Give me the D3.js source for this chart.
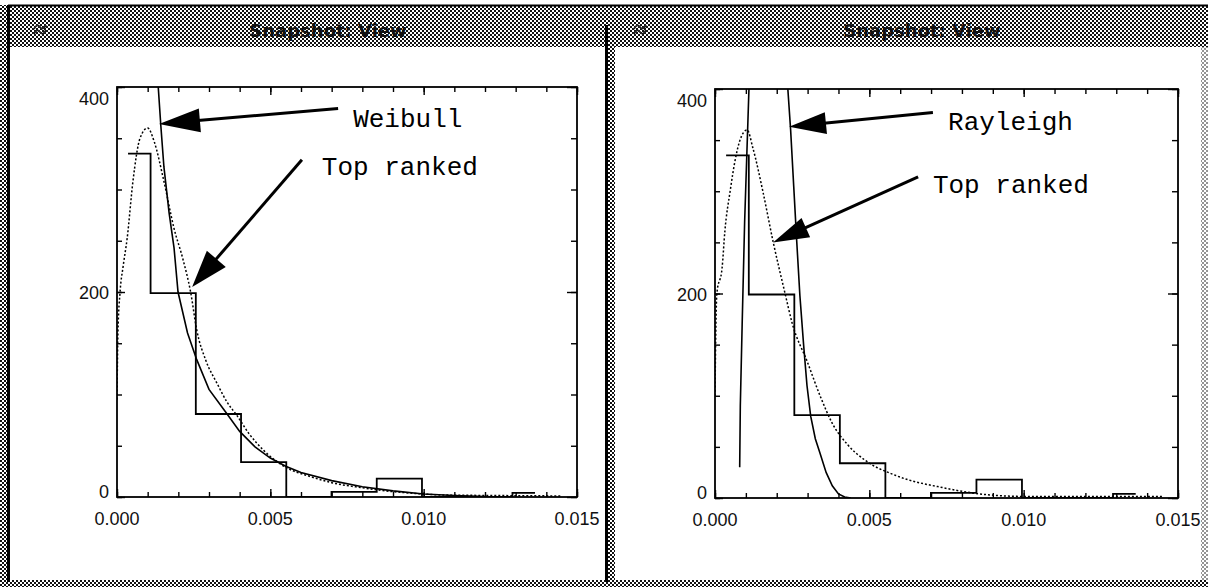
<!DOCTYPE html>
<html>
<head>
<meta charset="utf-8">
<script src="https://cdn.jsdelivr.net/npm/d3@7"></script>
<style>
  html, body { margin: 0; padding: 0; background: #fff; }
  svg { display: block; }
</style>
</head>
<body>
<svg id="chart" width="1208" height="587"></svg>
<script>
// ---- histogram of the sample (bin centres and counts), shared by both views ----
const binCenters = [0.00036, 0.00183, 0.00331, 0.00478, 0.00626, 0.00773, 0.00921, 0.01068, 0.01216, 0.01363];
const binCounts  = [335, 199, 81, 34, 0, 5, 18, 0, 0, 4];

// ---- fitted Weibull density (left view) ----
const weibullX = [0.00120, 0.00130, 0.00143, 0.00153, 0.00170, 0.00186, 0.00199, 0.00230, 0.00260, 0.00300, 0.00359, 0.00400, 0.00450, 0.00500, 0.00550, 0.00600, 0.00700, 0.00800, 0.00900, 0.01000, 0.01100, 0.01200];
const weibullY = [560, 420, 362, 322, 277, 243, 200, 160, 134, 105, 81, 64, 49, 38, 30, 24, 16, 10, 6, 3, 1.5, 0.5];

// ---- top ranked density (left view) ----
const topLeftX = [0.00000, 0.00003, 0.00010, 0.00020, 0.00033, 0.00052, 0.00075, 0.00100, 0.00121, 0.00153, 0.00186, 0.00215, 0.00240, 0.00260, 0.00290, 0.00326, 0.00360, 0.00390, 0.00430, 0.00480, 0.00550, 0.00630, 0.00700, 0.00800, 0.00875, 0.00950, 0.01060, 0.01200, 0.01350, 0.01450];
const topLeftY = [95, 160, 200, 225, 252, 308, 350, 360, 347, 308, 262, 232, 200, 163, 133, 111, 92, 80, 62, 45, 29, 20, 14, 9, 6, 4, 2, 1.5, 1.2, 1];

// ---- fitted Rayleigh density (right view) ----
const rayleighX = [0.00080, 0.00082, 0.00088, 0.00096, 0.00110, 0.00150, 0.00200, 0.00236, 0.00245, 0.00255, 0.00265, 0.00275, 0.00287, 0.00298, 0.00310, 0.00325, 0.00340, 0.00360, 0.00380, 0.00400, 0.00420, 0.00440];
const rayleighY = [30, 90, 170, 270, 400, 1100, 900, 400, 360, 305, 250, 198, 150, 110, 80, 58, 44, 25, 12, 4, 1, 0];

// ---- top ranked density (right view) ----
const topRightX = [0.00000, 0.00002, 0.00006, 0.00023, 0.00032, 0.00049, 0.00065, 0.00081, 0.00104, 0.00123, 0.00155, 0.00188, 0.00227, 0.00250, 0.00298, 0.00343, 0.00380, 0.00430, 0.00486, 0.00586, 0.00740, 0.00890, 0.01010, 0.01200, 0.01450];
const topRightY = [100, 150, 200, 225, 261, 300, 330, 350, 360, 342, 300, 251, 200, 171, 134, 98, 73, 52, 37, 22, 10, 3, 1.5, 1.5, 1.5];

// ---- axes ----
const xTickValues = [0, 0.005, 0.010, 0.015];
const xTickLabels = ["0.000", "0.005", "0.010", "0.015"];
const yTickValues = [0, 200, 400];
const yTickLabels = ["0", "200", "400"];
const xDomain = [0, 0.015];
const yDomain = [0, 400];

const windowTitle = "Snapshot: View";

const zip = (xs, ys) => xs.map((x, i) => [x, ys[i]]);

const views = [
  {
    id: "left", box: { x: 117, y: 87, w: 460, h: 410 }, titleX: 328,
    fit: zip(weibullX, weibullY), top: zip(topLeftX, topLeftY),
    notes: [
      { text: "Weibull",    tip: [0.00137, 364], tail: [0.00721, 379], at: [0.00770, 361], head: [41, 12] },
      { text: "Top ranked", tip: [0.00245, 205], tail: [0.00603, 329], at: [0.00668, 314], head: [37, 12.5] }
    ]
  },
  {
    id: "right", box: { x: 715, y: 89, w: 463, h: 409 }, titleX: 922,
    fit: zip(rayleighX, rayleighY), top: zip(topRightX, topRightY),
    notes: [
      { text: "Rayleigh",   tip: [0.00240, 363], tail: [0.00706, 377], at: [0.00755, 360], head: [37, 11] },
      { text: "Top ranked", tip: [0.00188, 250], tail: [0.00658, 314], at: [0.00706, 298], head: [36, 10.5] }
    ]
  }
];

const svg = d3.select("#chart");
const defs = svg.append("defs");

// dithered grey used by the window frames
const pat = defs.append("pattern").attr("id", "dither")
  .attr("width", 4).attr("height", 4).attr("patternUnits", "userSpaceOnUse");
pat.append("rect").attr("width", 4).attr("height", 4).attr("fill", "#fff");
pat.append("rect").attr("x", 0).attr("y", 0).attr("width", 2).attr("height", 2).attr("fill", "#111");
pat.append("rect").attr("x", 2).attr("y", 2).attr("width", 2).attr("height", 2).attr("fill", "#111");

// ---- window frames ----
const frame = svg.append("g").attr("class", "frames");
frame.append("rect").attr("x", 0).attr("y", 5).attr("width", 1208).attr("height", 42).attr("fill", "url(#dither)");
frame.append("rect").attr("x", 0).attr("y", 5).attr("width", 7).attr("height", 582).attr("fill", "url(#dither)");
frame.append("rect").attr("x", 0).attr("y", 580).attr("width", 1208).attr("height", 7).attr("fill", "url(#dither)");
frame.append("rect").attr("x", 608).attr("y", 47).attr("width", 7).attr("height", 535).attr("fill", "url(#dither)");
frame.append("rect").attr("x", 1201).attr("y", 47).attr("width", 7).attr("height", 535).attr("fill", "url(#dither)").attr("opacity", 0.45);
frame.append("line").attr("x1", 8).attr("x2", 1208).attr("y1", 5.5).attr("y2", 5.5).attr("stroke", "#000").attr("stroke-width", 2);
frame.append("line").attr("x1", 8.5).attr("x2", 8.5).attr("y1", 5).attr("y2", 582).attr("stroke", "#000").attr("stroke-width", 3);
frame.append("line").attr("x1", 606.5).attr("x2", 606.5).attr("y1", 25).attr("y2", 582).attr("stroke", "#000").attr("stroke-width", 3);

views.forEach(v => {
  const b = v.box;
  const x = d3.scaleLinear().domain(xDomain).range([b.x, b.x + b.w]);
  const y = d3.scaleLinear().domain(yDomain).range([b.y + b.h, b.y]);
  const g = svg.append("g").attr("class", "view-" + v.id);

  // window title and menu glyph
  g.append("text").attr("x", v.titleX).attr("y", 37)
    .attr("text-anchor", "middle")
    .attr("font-family", "DejaVu Sans, sans-serif").attr("font-weight", "bold")
    .attr("font-size", 18).attr("fill", "#111").text(windowTitle);
  const gx = v.id === "left" ? 40 : 640;
  g.append("path").attr("d", `M${gx - 6},${29} q3,-6 6,-2 q3,4 6,-2 M${gx - 6},${34} q3,-6 6,-2 q3,4 6,-2`)
    .attr("fill", "none").attr("stroke", "#222").attr("stroke-width", 1.8);

  defs.append("clipPath").attr("id", "clip-" + v.id)
    .append("rect").attr("x", b.x).attr("y", b.y).attr("width", b.w).attr("height", b.h);

  // minor and major ticks on all four sides, pointing inward
  const minorX = d3.range(0, 0.0155, 0.001);
  const minorY = d3.range(0, 401, 50);
  const tickLayer = (axis, tx, ty) => {
    const a = g.append("g").attr("transform", `translate(${tx},${ty})`).call(axis);
    a.select(".domain").remove();
    a.selectAll("text").remove();
    a.selectAll("line").attr("stroke", "#000").attr("stroke-width", 1.4);
  };
  tickLayer(d3.axisBottom(x).tickValues(minorX).tickSize(-5), 0, b.y + b.h);
  tickLayer(d3.axisTop(x).tickValues(minorX).tickSize(-5), 0, b.y);
  tickLayer(d3.axisBottom(x).tickValues(xTickValues).tickSize(-8), 0, b.y + b.h);
  tickLayer(d3.axisTop(x).tickValues(xTickValues).tickSize(-8), 0, b.y);
  tickLayer(d3.axisLeft(y).tickValues(minorY).tickSize(-5), b.x, 0);
  tickLayer(d3.axisRight(y).tickValues(minorY).tickSize(-6), b.x + b.w, 0);
  tickLayer(d3.axisLeft(y).tickValues(yTickValues).tickSize(-8), b.x, 0);
  tickLayer(d3.axisRight(y).tickValues(yTickValues).tickSize(-10), b.x + b.w, 0);

  // plot frame
  g.append("rect").attr("x", b.x).attr("y", b.y).attr("width", b.w).attr("height", b.h)
    .attr("fill", "none").attr("stroke", "#000").attr("stroke-width", 1.8);

  // tick labels, kept inside the vertical extent of the frame
  g.append("g").selectAll("text").data(xTickValues).join("text")
    .attr("x", d => x(d)).attr("y", b.y + b.h + 28)
    .attr("text-anchor", "middle")
    .attr("font-family", "Liberation Sans, Arial, sans-serif").attr("font-size", 18).attr("fill", "#111")
    .text((d, i) => xTickLabels[i]);
  g.append("g").selectAll("text").data(yTickValues).join("text")
    .attr("x", b.x - 8)
    .attr("y", d => Math.max(b.y + 12, Math.min(b.y + b.h - 5, y(d) + 1)))
    .attr("dy", "0.35em").attr("text-anchor", "end")
    .attr("font-family", "Liberation Sans, Arial, sans-serif").attr("font-size", 18).attr("fill", "#111")
    .text((d, i) => yTickLabels[i]);

  const plot = g.append("g").attr("clip-path", `url(#clip-${v.id})`);

  // histogram drawn as a centred step line
  const hist = d3.line().x(d => x(d[0])).y(d => y(d[1])).curve(d3.curveStep);
  plot.append("path").datum(zip(binCenters, binCounts)).attr("d", hist)
    .attr("fill", "none").attr("stroke", "#000").attr("stroke-width", 1.8);

  const curve = d3.line().x(d => x(d[0])).y(d => y(d[1])).curve(d3.curveMonotoneX);
  plot.append("path").datum(v.top).attr("d", curve)
    .attr("fill", "none").attr("stroke", "#000").attr("stroke-width", 1.5)
    .attr("stroke-dasharray", "2,2");
  plot.append("path").datum(v.fit).attr("d", d3.line().x(d => x(d[0])).y(d => y(d[1])))
    .attr("fill", "none").attr("stroke", "#000").attr("stroke-width", 1.6);

  // annotation arrows and labels
  v.notes.forEach(n => {
    const tip = [x(n.tip[0]), y(n.tip[1])];
    const tail = [x(n.tail[0]), y(n.tail[1])];
    const dx = tail[0] - tip[0], dy = tail[1] - tip[1];
    const len = Math.hypot(dx, dy);
    const ux = dx / len, uy = dy / len;
    const [hl, hw] = n.head;
    const bx = tip[0] + ux * hl, by = tip[1] + uy * hl;
    g.append("line").attr("x1", bx - ux * 2).attr("y1", by - uy * 2).attr("x2", tail[0]).attr("y2", tail[1])
      .attr("stroke", "#000").attr("stroke-width", 3);
    g.append("path")
      .attr("d", `M${tip[0]},${tip[1]}L${bx - uy * hw},${by + ux * hw}L${bx + uy * hw},${by - ux * hw}Z`)
      .attr("fill", "#000");
    g.append("text").attr("x", x(n.at[0])).attr("y", y(n.at[1]))
      .attr("font-family", "Liberation Mono, Courier New, monospace").attr("font-size", 26)
      .attr("fill", "#000").text(n.text);
  });
});
</script>
</body>
</html>
